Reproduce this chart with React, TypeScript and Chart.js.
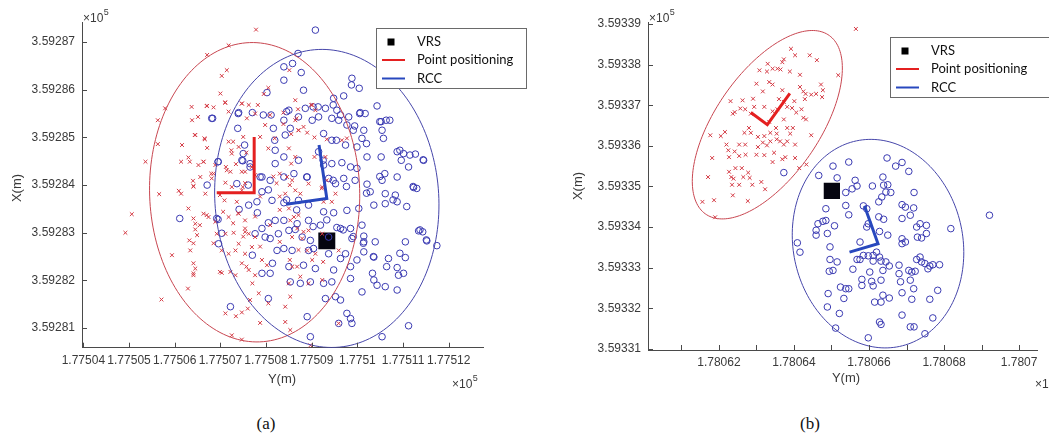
import React, { useEffect, useRef } from 'react';
import { Chart, registerables } from 'chart.js';

Chart.register(...registerables);

type Pt = [number, number];

// ---------------- Panel (a) data ----------------
const leftXTicks = [177504, 177505, 177506, 177507, 177508, 177509, 177510, 177511, 177512];
const leftXTickLabels = ['1.77504', '1.77505', '1.77506', '1.77507', '1.77508', '1.77509', '1.7751', '1.77511', '1.77512'];
const leftYTicks = [359281, 359282, 359283, 359284, 359285, 359286, 359287];
const leftYTickLabels = ['3.59281', '3.59282', '3.59283', '3.59284', '3.59285', '3.59286', '3.59287'];

const leftPointPositioning: Pt[] = [
  [177507.78, 359287.26], [177507.18, 359286.93], [177506.71, 359286.73], [177507.14, 359286.41], [177507.03, 359286.29],
  [177508.05, 359286.04], [177507.95, 359285.91], [177507.0, 359285.92], [177506.71, 359285.66], [177506.85, 359285.63],
  [177507.11, 359285.73], [177505.79, 359285.61], [177505.63, 359285.36], [177506.38, 359285.36], [177506.51, 359285.43],
  [177507.18, 359285.54], [177507.47, 359285.71], [177507.62, 359285.68], [177507.58, 359285.4], [177507.76, 359285.5],
  [177505.63, 359284.86], [177506.16, 359284.84], [177506.45, 359285.05], [177506.65, 359284.98], [177506.71, 359284.78],
  [177507.18, 359284.91], [177507.4, 359284.8], [177507.24, 359284.73], [177505.36, 359284.49], [177506.14, 359284.49],
  [177506.3, 359284.58], [177506.52, 359284.42], [177506.63, 359284.49], [177506.89, 359284.42], [177507.12, 359284.38],
  [177507.22, 359284.28], [177507.34, 359284.44], [177507.54, 359284.28], [177507.69, 359284.38], [177506.56, 359284.17],
  [177506.4, 359284.09], [177506.41, 359283.98], [177506.8, 359284.24], [177507.11, 359284.05], [177507.25, 359283.96],
  [177507.49, 359283.96], [177505.66, 359283.81], [177506.09, 359283.88], [177506.14, 359283.82], [177506.67, 359283.82],
  [177507.09, 359283.68], [177507.36, 359283.65], [177505.06, 359283.39], [177506.3, 359283.51], [177506.41, 359283.3],
  [177506.45, 359283.19], [177506.63, 359283.4], [177506.74, 359283.33], [177506.89, 359283.23], [177507.18, 359283.33],
  [177507.4, 359283.4], [177507.54, 359283.26], [177504.92, 359283.0], [177506.32, 359282.84], [177506.45, 359283.07],
  [177506.49, 359282.95], [177506.92, 359282.98], [177507.11, 359282.98], [177507.29, 359283.0], [177507.54, 359283.09],
  [177507.62, 359282.98], [177507.76, 359282.91], [177505.94, 359282.53], [177506.34, 359282.63], [177506.41, 359282.36],
  [177506.45, 359282.25], [177506.41, 359282.11], [177507.03, 359282.63], [177507.18, 359282.56], [177507.33, 359282.63],
  [177507.4, 359282.77], [177507.54, 359282.56], [177507.69, 359282.7], [177507.03, 359282.16], [177507.22, 359282.18],
  [177507.47, 359282.36], [177507.62, 359282.22], [177507.91, 359282.43], [177508.02, 359282.32], [177506.29, 359281.83],
  [177507.33, 359282.11], [177507.76, 359282.11], [177507.7, 359281.94], [177507.84, 359281.73], [177505.71, 359281.6],
  [177507.11, 359281.31], [177507.34, 359281.25], [177507.47, 359281.33], [177507.6, 359281.41], [177507.65, 359281.59],
  [177507.87, 359281.11], [177507.25, 359280.85], [177507.47, 359280.76], [177508.05, 359281.52],
  [177508.51, 359286.41], [177508.64, 359285.78], [177508.7, 359285.59], [177509.01, 359285.68], [177509.08, 359285.57],
  [177508.64, 359285.36], [177508.82, 359285.22], [177508.9, 359285.1], [177508.71, 359285.15], [177508.55, 359285.07],
  [177509.06, 359285.0], [177508.5, 359284.77], [177508.64, 359284.59], [177508.55, 359284.45], [177509.06, 359284.59],
  [177509.3, 359284.59], [177509.33, 359284.96], [177509.66, 359284.94], [177509.77, 359284.98], [177508.46, 359284.17],
  [177508.57, 359284.1], [177508.93, 359284.03], [177509.23, 359283.96], [177509.33, 359284.1], [177508.42, 359283.82],
  [177508.64, 359283.89], [177508.75, 359283.82], [177508.5, 359283.51], [177508.61, 359283.33], [177508.53, 359283.26],
  [177509.26, 359283.65], [177509.44, 359283.65], [177509.52, 359283.82], [177508.68, 359283.09], [177508.57, 359282.91],
  [177508.79, 359282.88], [177508.93, 359283.05], [177509.23, 359282.98], [177508.9, 359282.63], [177509.08, 359282.56],
  [177509.01, 359282.43], [177509.59, 359282.63], [177508.57, 359282.29], [177508.68, 359282.29], [177508.5, 359281.94],
  [177508.75, 359282.08], [177508.93, 359281.94], [177509.23, 359282.01], [177508.53, 359281.66], [177508.42, 359281.45],
  [177509.59, 359281.1], [177508.42, 359281.13], [177508.53, 359280.96], [177508.97, 359280.64],
  [177506.37, 359285.64], [177506.7, 359285.66], [177507.1, 359285.73], [177507.47, 359285.71], [177507.82, 359285.68],
  [177508.09, 359285.47], [177508.38, 359285.52], [177508.67, 359285.4], [177508.99, 359285.68], [177507.98, 359285.26],
  [177508.38, 359285.28], [177508.71, 359285.15], [177506.44, 359285.05], [177506.66, 359284.96], [177507.28, 359284.91],
  [177507.5, 359285.01], [177507.87, 359285.01], [177508.19, 359284.98], [177507.25, 359284.66], [177507.57, 359284.68],
  [177508.05, 359284.77], [177506.33, 359284.49], [177506.63, 359284.49], [177506.85, 359284.24], [177507.14, 359284.31],
  [177507.47, 359284.28], [177507.76, 359284.21], [177508.16, 359284.18], [177508.3, 359284.24], [177506.41, 359283.97],
  [177506.81, 359284.14], [177507.54, 359284.04], [177508.23, 359284.04], [177508.52, 359284.0], [177506.99, 359283.79],
  [177507.47, 359283.89], [177507.87, 359283.76], [177508.3, 359283.76], [177509.22, 359283.93], [177506.7, 359283.37],
  [177507.06, 359283.44], [177507.39, 359283.41], [177507.76, 359283.34], [177508.3, 359283.48], [177508.71, 359283.37],
  [177506.55, 359283.16], [177507.28, 359283.2], [177507.54, 359283.02], [177508.09, 359283.16], [177508.82, 359283.02],
  [177506.41, 359282.78], [177506.85, 359282.78], [177507.5, 359282.92], [177507.87, 359282.71], [177508.3, 359282.81],
  [177508.71, 359282.64], [177506.41, 359282.15], [177506.99, 359282.18], [177507.57, 359282.29], [177508.52, 359282.43],
  [177509.25, 359282.39],
];

const leftRCC: Pt[] = [
  [177506.83, 359285.4], [177507.4, 359285.52], [177507.7, 359285.52], [177507.38, 359285.19], [177507.53, 359284.84],
  [177507.49, 359284.51], [177507.65, 359284.45], [177506.95, 359284.49], [177506.71, 359284.0], [177507.36, 359284.03],
  [177507.91, 359284.17], [177508.09, 359284.1], [177508.2, 359284.45], [177508.2, 359284.73], [177508.19, 359284.94],
  [177508.16, 359285.19], [177508.11, 359285.47], [177508.02, 359285.94], [177506.11, 359283.3], [177506.95, 359283.28],
  [177506.96, 359282.77], [177507.41, 359283.49], [177507.62, 359283.58], [177507.8, 359283.65], [177507.91, 359283.86],
  [177508.13, 359283.68], [177507.81, 359283.42], [177507.76, 359282.98], [177507.91, 359283.09], [177508.05, 359283.21],
  [177508.2, 359283.26], [177507.98, 359282.91], [177508.09, 359282.88], [177507.7, 359282.53], [177507.91, 359282.15],
  [177508.09, 359282.15], [177508.14, 359282.36], [177507.22, 359281.45], [177508.05, 359281.62], [177508.27, 359282.98],
  [177508.24, 359282.63],
  [177509.08, 359287.25], [177508.7, 359286.76], [177508.58, 359286.55], [177508.39, 359286.48], [177508.77, 359286.36],
  [177508.82, 359285.99], [177508.39, 359286.2], [177509.88, 359286.24], [177509.87, 359286.1], [177510.04, 359286.03],
  [177509.48, 359285.82], [177509.7, 359285.87], [177508.5, 359285.57], [177508.86, 359285.61], [177509.14, 359285.64],
  [177509.3, 359285.61], [177509.55, 359285.57], [177509.63, 359285.47], [177509.81, 359285.43], [177510.06, 359285.52],
  [177510.17, 359285.5], [177510.43, 359285.66], [177508.39, 359285.36], [177508.71, 359285.43], [177509.01, 359285.36],
  [177509.15, 359285.43], [177509.44, 359285.4], [177509.59, 359285.36], [177509.77, 359285.26], [177509.94, 359285.24],
  [177510.14, 359285.15], [177510.52, 359285.33], [177510.63, 359285.36], [177510.54, 359285.15], [177510.57, 359284.98],
  [177508.42, 359285.05], [177508.53, 359285.19], [177509.26, 359285.08], [177509.44, 359284.94], [177509.74, 359284.84],
  [177509.99, 359284.8], [177510.1, 359284.98], [177510.21, 359284.59], [177510.52, 359284.59], [177510.87, 359284.7],
  [177511.01, 359284.66], [177510.96, 359284.52], [177511.12, 359284.38], [177511.27, 359284.65], [177511.45, 359284.52],
  [177508.39, 359284.59], [177508.71, 359284.52], [177509.15, 359284.7], [177509.26, 359284.42], [177509.44, 359284.45],
  [177509.66, 359284.47], [177509.85, 359284.38], [177509.99, 359284.35], [177508.39, 359284.17], [177508.61, 359284.24],
  [177508.9, 359284.17], [177509.37, 359284.14], [177509.52, 359284.03], [177509.7, 359284.14], [177509.95, 359284.1],
  [177510.21, 359284.02], [177510.54, 359284.1], [177510.6, 359284.24], [177510.87, 359284.17], [177511.23, 359283.95],
  [177511.3, 359283.93], [177508.39, 359283.63], [177508.71, 359283.68], [177508.93, 359283.58], [177509.26, 359283.44],
  [177509.48, 359283.42], [177509.77, 359283.47], [177510.03, 359283.51], [177510.28, 359283.86], [177510.36, 359283.58],
  [177510.61, 359283.82], [177510.83, 359283.79], [177510.87, 359283.65], [177510.61, 359283.61], [177508.39, 359283.26],
  [177508.68, 359283.19], [177508.93, 359283.26], [177509.19, 359283.16], [177509.55, 359283.11], [177509.85, 359283.09],
  [177510.1, 359283.16], [177508.5, 359283.05], [177508.64, 359283.07], [177508.79, 359282.91], [177508.97, 359282.84],
  [177509.37, 359282.91], [177509.63, 359283.09], [177509.88, 359282.88], [177510.14, 359282.93], [177510.39, 359282.81],
  [177510.14, 359282.81], [177511.34, 359283.04], [177511.43, 359283.02], [177511.52, 359282.83], [177511.74, 359282.73],
  [177511.05, 359282.81], [177508.39, 359282.67], [177508.57, 359282.63], [177508.93, 359282.63], [177509.04, 359282.67],
  [177509.37, 359282.56], [177509.63, 359282.46], [177509.74, 359282.56], [177510.14, 359282.6], [177510.36, 359282.49],
  [177510.68, 359282.46], [177511.05, 359282.48], [177508.5, 359282.29], [177508.82, 359282.32], [177509.08, 359282.25],
  [177509.48, 359282.22], [177509.85, 359282.29], [177509.99, 359282.43], [177510.33, 359282.15], [177510.87, 359282.27],
  [177510.9, 359282.11], [177511.01, 359282.15], [177508.53, 359281.97], [177508.75, 359281.94], [177508.97, 359281.97],
  [177509.26, 359281.94], [177509.44, 359281.97], [177509.85, 359282.04], [177510.1, 359281.76], [177510.36, 359282.01],
  [177510.43, 359281.9], [177510.61, 359281.87], [177510.87, 359281.8], [177509.52, 359281.66], [177509.63, 359281.59],
  [177509.3, 359281.62], [177508.9, 359281.24], [177509.77, 359281.31], [177509.85, 359281.2], [177509.88, 359281.1],
  [177509.59, 359281.1], [177511.12, 359281.05], [177510.54, 359280.82], [177508.97, 359280.82],
  [177506.81, 359285.4], [177507.39, 359285.5], [177507.94, 359285.47], [177508.45, 359285.54], [177509.03, 359285.64],
  [177509.47, 359285.68], [177510.05, 359285.5], [177510.49, 359285.33], [177510.71, 359285.36], [177510.93, 359284.73],
  [177511.15, 359284.63], [177511.44, 359284.53], [177511.22, 359283.97], [177510.78, 359283.69], [177511.08, 359283.55],
  [177511.37, 359283.06], [177511.51, 359282.85], [177510.93, 359282.57], [177510.64, 359282.29], [177510.35, 359282.5],
  [177510.13, 359282.78], [177509.91, 359282.92], [177509.69, 359283.06], [177509.33, 359283.27], [177509.03, 359283.13],
  [177508.67, 359283.48], [177508.45, 359283.69], [177508.05, 359283.9], [177507.87, 359284.17], [177507.61, 359284.0],
  [177507.47, 359284.52], [177507.65, 359284.38], [177507.5, 359284.66], [177506.95, 359284.49], [177506.92, 359283.3],
  [177507.03, 359282.99], [177510.2, 359284.87], [177509.91, 359285.15], [177509.54, 359284.94], [177509.25, 359284.52],
  [177508.89, 359284.17], [177509.47, 359284.1], [177509.76, 359283.97], [177510.2, 359283.83], [177510.49, 359284.18],
];

const leftVRS: Pt[] = [[177509.33, 359282.83]];
const leftPPAxes: Pt[] = [[177506.92, 359283.84], [177507.74, 359283.84], [177507.74, 359285.01]];
const leftRCCAxes: Pt[] = [[177508.44, 359283.6], [177509.33, 359283.72], [177509.16, 359284.84]];
// ellipse: centre x, centre y, semi-axis x, semi-axis y, rotation (deg)
const leftPPEllipse = [177507.75, 359283.85, 2.3, 3.14, 2];
const leftRCCEllipse = [177509.33, 359283.72, 2.45, 3.13, 5];

// ---------------- Panel (b) data ----------------
const rightXTicks = [178061, 178062, 178063, 178064, 178065, 178066, 178067, 178068, 178069, 178070];
const rightXTickLabels = ['', '1.78062', '', '1.78064', '', '1.78066', '', '1.78068', '', '1.7807'];
const rightYTicks = [359331, 359332, 359333, 359334, 359335, 359336, 359337, 359338, 359339];
const rightYTickLabels = ['3.59331', '3.59332', '3.59333', '3.59334', '3.59335', '3.59336', '3.59337', '3.59338', '3.59339'];

const rightPointPositioning: Pt[] = [
  [178063.92, 359338.39], [178064.03, 359338.23], [178064.42, 359338.23], [178064.61, 359338.11], [178063.73, 359338.13],
  [178063.69, 359338.06], [178063.3, 359338.02], [178063.43, 359337.9], [178063.56, 359337.9], [178063.64, 359337.88],
  [178063.08, 359337.86], [178063.28, 359337.83], [178063.89, 359337.83], [178064.16, 359337.75], [178065.18, 359337.74],
  [178063.0, 359337.53], [178063.34, 359337.57], [178063.43, 359337.51], [178064.16, 359337.45], [178063.17, 359337.34],
  [178063.69, 359337.37], [178064.25, 359337.34], [178064.31, 359337.28], [178064.46, 359337.26], [178064.59, 359337.28],
  [178064.77, 359337.37], [178064.72, 359337.51], [178064.75, 359337.2], [178062.31, 359337.1], [178062.63, 359337.12],
  [178062.91, 359337.16], [178063.6, 359337.15], [178063.73, 359337.08], [178064.01, 359337.1], [178064.29, 359337.15],
  [178062.42, 359336.83], [178062.37, 359336.79], [178062.57, 359336.92], [178062.7, 359336.9], [178062.85, 359336.79],
  [178062.94, 359336.96], [178063.21, 359336.96], [178063.43, 359336.85], [178063.56, 359336.9], [178063.82, 359336.96],
  [178063.95, 359336.93], [178064.2, 359336.9], [178064.06, 359336.82], [178064.25, 359336.69], [178064.32, 359336.65],
  [178063.34, 359336.59], [178063.52, 359336.44], [178063.73, 359336.65], [178063.82, 359336.44], [178063.97, 359336.44],
  [178062.8, 359336.44], [178062.68, 359336.32], [178062.85, 359336.32], [178062.16, 359336.34], [178062.05, 359336.24],
  [178061.77, 359336.26], [178063.04, 359336.22], [178063.21, 359336.24], [178063.37, 359336.32], [178063.54, 359336.3],
  [178063.9, 359336.3], [178064.46, 359336.26], [178063.17, 359336.08], [178063.37, 359336.11], [178063.54, 359336.16],
  [178063.63, 359336.11], [178063.82, 359336.11], [178062.2, 359336.03], [178062.54, 359336.03], [178062.7, 359336.03],
  [178063.04, 359335.97], [178063.28, 359336.01], [178063.73, 359336.03], [178064.03, 359336.03], [178062.25, 359335.89],
  [178062.42, 359335.86], [178062.27, 359335.72], [178062.54, 359335.75], [178062.71, 359335.78], [178063.0, 359335.78],
  [178063.21, 359335.77], [178063.47, 359335.83], [178063.69, 359335.67], [178063.77, 359335.72], [178061.82, 359335.7],
  [178063.43, 359335.6], [178062.44, 359335.45], [178062.61, 359335.45], [178062.78, 359335.34], [178062.27, 359335.36],
  [178062.33, 359335.23], [178062.39, 359335.19], [178062.65, 359335.23], [178062.82, 359335.21], [178064.14, 359335.45],
  [178064.33, 359335.54], [178064.03, 359335.7], [178061.71, 359335.23], [178062.35, 359335.04], [178062.54, 359335.04],
  [178062.89, 359335.04], [178063.13, 359335.11], [178063.23, 359334.93], [178061.87, 359334.66], [178061.56, 359334.62],
  [178062.37, 359334.78], [178062.77, 359334.64], [178061.9, 359334.24], [178065.65, 359338.88],
];

const rightRCC: Pt[] = [
  [178063.73, 359335.34], [178064.66, 359335.27], [178065.04, 359335.5], [178065.15, 359335.21], [178064.85, 359334.45],
  [178064.85, 359334.16], [178064.77, 359334.14], [178064.64, 359334.08], [178065.08, 359334.03], [178064.59, 359333.92],
  [178064.59, 359333.8], [178064.89, 359333.84], [178064.09, 359333.61], [178064.16, 359333.38], [178064.96, 359333.51],
  [178064.96, 359333.2], [178065.15, 359333.14], [178064.94, 359332.91], [178065.04, 359332.93], [178065.24, 359332.52],
  [178064.91, 359332.36], [178064.89, 359332.03], [178065.21, 359331.87], [178065.11, 359331.51],
  [178065.46, 359335.6], [178066.48, 359335.7], [178066.71, 359335.5], [178066.88, 359335.59], [178067.06, 359335.37],
  [178065.63, 359335.15], [178065.68, 359335.01], [178065.55, 359334.94], [178065.38, 359334.85], [178066.09, 359335.01],
  [178066.37, 359335.23], [178066.39, 359335.03], [178066.5, 359335.04], [178066.58, 359334.85], [178066.45, 359334.86],
  [178066.34, 359334.74], [178066.26, 359334.62], [178067.2, 359334.85], [178065.85, 359334.52], [178065.94, 359334.45],
  [178066.88, 359334.55], [178066.97, 359334.49], [178067.1, 359334.29], [178067.19, 359334.47], [178065.38, 359334.53],
  [178065.46, 359334.3], [178066.26, 359334.25], [178066.39, 359334.19], [178065.98, 359334.08], [178065.94, 359334.0],
  [178066.28, 359333.89], [178066.5, 359333.8], [178066.88, 359334.21], [178067.27, 359334.0], [178067.36, 359334.08],
  [178067.53, 359334.04], [178067.53, 359333.84], [178067.4, 359333.73], [178067.29, 359333.75], [178068.18, 359333.96],
  [178066.88, 359333.71], [178066.88, 359333.59], [178066.97, 359333.63], [178069.21, 359334.29], [178065.76, 359333.63],
  [178065.68, 359333.2], [178065.76, 359333.2], [178065.85, 359333.3], [178065.98, 359333.29], [178066.11, 359333.3],
  [178066.2, 359333.38], [178066.28, 359333.26], [178066.32, 359333.16], [178066.45, 359333.14], [178066.54, 359333.04],
  [178066.11, 359333.16], [178066.37, 359332.93], [178065.57, 359332.96], [178066.02, 359332.89], [178066.8, 359333.06],
  [178066.8, 359332.85], [178067.06, 359332.93], [178067.14, 359332.89], [178067.23, 359332.91], [178067.27, 359333.2],
  [178067.36, 359333.26], [178067.4, 359333.14], [178067.49, 359333.1], [178067.62, 359333.04], [178067.7, 359333.07],
  [178067.88, 359333.07], [178067.57, 359332.97], [178065.81, 359332.71], [178066.07, 359332.66], [178065.81, 359332.56],
  [178066.11, 359332.55], [178066.32, 359332.69], [178066.84, 359332.65], [178067.1, 359332.69], [178065.38, 359332.48],
  [178065.46, 359332.48], [178065.33, 359332.24], [178066.37, 359332.32], [178066.54, 359332.25], [178066.15, 359332.15],
  [178066.32, 359332.15], [178066.88, 359332.38], [178067.14, 359332.22], [178067.19, 359332.48], [178067.83, 359332.44],
  [178067.62, 359332.22], [178066.88, 359331.83], [178066.28, 359331.66], [178066.32, 359331.6], [178067.1, 359331.54],
  [178067.2, 359331.54], [178067.7, 359331.76], [178067.49, 359331.37], [178065.98, 359331.27],
];

const rightVRS: Pt[] = [[178065.01, 359334.89]];
const rightPPAxes: Pt[] = [[178062.85, 359336.82], [178063.29, 359336.52], [178063.89, 359337.29]];
const rightRCCAxes: Pt[] = [[178065.48, 359333.38], [178066.24, 359333.59], [178065.88, 359334.52]];
const rightPPEllipse = [178063.29, 359336.52, 2.75, 1.35, 52];
const rightRCCEllipse = [178066.24, 359333.59, 2.25, 2.6, 18];

const legendLabels = ['VRS', 'Point positioning', 'RCC'];

// ---------------- styles ----------------
const RED_PT = 'rgb(212,58,68)';
const BLUE_PT = 'rgb(58,58,178)';
const RED_ELL = 'rgb(200,70,80)';
const BLUE_ELL = 'rgb(70,70,170)';
const RED_AX = 'rgb(228,32,32)';
const BLUE_AX = 'rgb(40,72,190)';
const AXIS_COL = '#4a4a4a';
const TXT_COL = '#3a3a3a';
const TICK_FONT = "12px 'Liberation Sans', Arial, sans-serif";
const TITLE_FONT = "13px 'Liberation Sans', Arial, sans-serif";
const LEGEND_FONT = "13px Lato, 'Open Sans', sans-serif";

interface PanelCfg {
  left: number;
  w: number;
  h: number;
  area: { left: number; top: number; right: number; bottom: number };
  xMin: number; xMax: number; yMin: number; yMax: number;
  xTicks: number[]; xLabels: string[]; yTicks: number[]; yLabels: string[];
  pp: Pt[]; rcc: Pt[]; vrs: Pt[]; ppAxes: Pt[]; rccAxes: Pt[];
  ppEll: number[]; rccEll: number[];
  vrsRadius: number;
  xTitle: [number, number]; yTitle: [number, number];
  yExp: [number, number]; xExp: [number, number];
  legend: { x: number; y: number; w: number; h: number };
}

const panels: PanelCfg[] = [
  {
    left: 0, w: 530, h: 400,
    area: { left: 82, top: 22, right: 483, bottom: 347.7 },
    xMin: 177503.97, xMax: 177512.75, yMin: 359280.59, yMax: 359287.42,
    xTicks: leftXTicks, xLabels: leftXTickLabels, yTicks: leftYTicks, yLabels: leftYTickLabels,
    pp: leftPointPositioning, rcc: leftRCC, vrs: leftVRS, ppAxes: leftPPAxes, rccAxes: leftRCCAxes,
    ppEll: leftPPEllipse, rccEll: leftRCCEllipse, vrsRadius: 12,
    xTitle: [282, 379], yTitle: [17, 188], yExp: [83, 19], xExp: [452, 385],
    legend: { x: 376, y: 28, w: 151, h: 61 },
  },
  {
    left: 540, w: 509, h: 400,
    area: { left: 108, top: 22, right: 509, bottom: 350 },
    xMin: 178060.11, xMax: 178070.49, yMin: 359330.97, yMax: 359339.05,
    xTicks: rightXTicks, xLabels: rightXTickLabels, yTicks: rightYTicks, yLabels: rightYTickLabels,
    pp: rightPointPositioning, rcc: rightRCC, vrs: rightVRS, ppAxes: rightPPAxes, rccAxes: rightRCCAxes,
    ppEll: rightPPEllipse, rccEll: rightRCCEllipse, vrsRadius: 11.5,
    xTitle: [306, 378], yTitle: [38, 186], yExp: [109, 19], xExp: [495, 385],
    legend: { x: 350, y: 37, w: 200, h: 61 },
  },
];

const toXY = (arr: Pt[]) => arr.map(([x, y]) => ({ x, y }));

function drawExp(ctx: CanvasRenderingContext2D, x: number, y: number) {
  ctx.font = TICK_FONT;
  ctx.textAlign = 'left';
  ctx.textBaseline = 'middle';
  ctx.fillText('\u00d710', x, y);
  const w = ctx.measureText('\u00d710').width;
  ctx.font = "9px 'Liberation Sans', Arial, sans-serif";
  ctx.fillText('5', x + w + 0.5, y - 6);
}

function makePlugin(cfg: PanelCfg) {
  return {
    id: 'decor',
    afterDatasetsDraw(chart: any) {
      const ctx: CanvasRenderingContext2D = chart.ctx;
      const xs = chart.scales.x;
      const ys = chart.scales.y;
      const ca = chart.chartArea;
      ctx.save();
      ctx.beginPath();
      ctx.rect(ca.left, ca.top, ca.right - ca.left, ca.bottom - ca.top);
      ctx.clip();
      const drawEll = (e: number[], col: string) => {
        const [cx, cy, rx, ry, rotDeg] = e;
        const r = (rotDeg * Math.PI) / 180;
        ctx.beginPath();
        for (let i = 0; i <= 180; i++) {
          const t = (i / 180) * Math.PI * 2;
          const ex = rx * Math.cos(t);
          const ey = ry * Math.sin(t);
          const vx = cx + ex * Math.cos(r) - ey * Math.sin(r);
          const vy = cy + ex * Math.sin(r) + ey * Math.cos(r);
          const px = xs.getPixelForValue(vx);
          const py = ys.getPixelForValue(vy);
          if (i === 0) ctx.moveTo(px, py);
          else ctx.lineTo(px, py);
        }
        ctx.strokeStyle = col;
        ctx.lineWidth = 1;
        ctx.stroke();
      };
      drawEll(cfg.ppEll, RED_ELL);
      drawEll(cfg.rccEll, BLUE_ELL);
      ctx.restore();
    },
    afterDraw(chart: any) {
      const ctx: CanvasRenderingContext2D = chart.ctx;
      const xs = chart.scales.x;
      const ys = chart.scales.y;
      const ca = chart.chartArea;
      ctx.save();
      // inward ticks
      ctx.strokeStyle = AXIS_COL;
      ctx.lineWidth = 1;
      ctx.beginPath();
      cfg.xTicks.forEach((v) => {
        const px = Math.round(xs.getPixelForValue(v)) + 0.5;
        ctx.moveTo(px, ca.bottom);
        ctx.lineTo(px, ca.bottom - 5);
      });
      cfg.yTicks.forEach((v) => {
        const py = Math.round(ys.getPixelForValue(v)) + 0.5;
        ctx.moveTo(ca.left, py);
        ctx.lineTo(ca.left + 5, py);
      });
      ctx.stroke();
      // tick labels
      ctx.fillStyle = TXT_COL;
      ctx.font = TICK_FONT;
      ctx.textAlign = 'center';
      ctx.textBaseline = 'middle';
      cfg.xTicks.forEach((v, i) => {
        const lab = cfg.xLabels[i];
        if (lab) ctx.fillText(lab, xs.getPixelForValue(v), ca.bottom + 13);
      });
      ctx.textAlign = 'right';
      cfg.yTicks.forEach((v, i) => {
        ctx.fillText(cfg.yLabels[i], ca.left - 7, ys.getPixelForValue(v));
      });
      // titles
      ctx.font = TITLE_FONT;
      ctx.textAlign = 'center';
      ctx.fillText('Y(m)', cfg.xTitle[0], cfg.xTitle[1]);
      ctx.save();
      ctx.translate(cfg.yTitle[0], cfg.yTitle[1]);
      ctx.rotate(-Math.PI / 2);
      ctx.fillText('X(m)', 0, 0);
      ctx.restore();
      drawExp(ctx, cfg.yExp[0], cfg.yExp[1]);
      drawExp(ctx, cfg.xExp[0], cfg.xExp[1]);
      // legend
      const L = cfg.legend;
      ctx.fillStyle = '#ffffff';
      ctx.fillRect(L.x, L.y, L.w, L.h);
      ctx.strokeStyle = '#6a6a6a';
      ctx.lineWidth = 1;
      ctx.strokeRect(L.x + 0.5, L.y + 0.5, L.w - 1, L.h - 1);
      const rows = [L.y + 14, L.y + 32, L.y + 50.5];
      ctx.fillStyle = '#000';
      ctx.fillRect(L.x + 11.5, rows[0] - 3.5, 7, 7);
      ctx.lineWidth = 2;
      ctx.strokeStyle = RED_AX;
      ctx.beginPath();
      ctx.moveTo(L.x + 6, rows[1]);
      ctx.lineTo(L.x + 29, rows[1]);
      ctx.stroke();
      ctx.strokeStyle = BLUE_AX;
      ctx.beginPath();
      ctx.moveTo(L.x + 6, rows[2]);
      ctx.lineTo(L.x + 29, rows[2]);
      ctx.stroke();
      ctx.fillStyle = '#111';
      ctx.font = LEGEND_FONT;
      ctx.textAlign = 'left';
      ctx.textBaseline = 'middle';
      legendLabels.forEach((t, i) => ctx.fillText(t, L.x + 41, rows[i]));
      ctx.restore();
    },
  };
}

function Panel({ cfg }: { cfg: PanelCfg }) {
  const ref = useRef<HTMLCanvasElement>(null);
  useEffect(() => {
    if (!ref.current) return;
    const chart = new Chart(ref.current, {
      type: 'scatter',
      data: {
        datasets: [
          { label: 'ppAxes', data: toXY(cfg.ppAxes), showLine: true, borderColor: RED_AX, borderWidth: 3, pointRadius: 0, fill: false } as any,
          { label: 'rccAxes', data: toXY(cfg.rccAxes), showLine: true, borderColor: BLUE_AX, borderWidth: 3, pointRadius: 0, fill: false } as any,
          { label: 'Point positioning', data: toXY(cfg.pp), pointStyle: 'crossRot', pointRadius: 2.7, borderColor: RED_PT, borderWidth: 1, backgroundColor: RED_PT },
          { label: 'RCC', data: toXY(cfg.rcc), pointStyle: 'circle', pointRadius: 3.3, borderColor: BLUE_PT, borderWidth: 1, backgroundColor: 'rgba(0,0,0,0)' },
          { label: 'VRS', data: toXY(cfg.vrs), pointStyle: 'rect', pointRadius: cfg.vrsRadius, borderColor: '#000', borderWidth: 0, backgroundColor: '#050510' },
        ],
      },
      options: {
        animation: false,
        responsive: false,
        devicePixelRatio: 1,
        layout: { padding: { top: cfg.area.top, right: cfg.w - cfg.area.right, left: 0, bottom: 0 } },
        plugins: { legend: { display: false }, tooltip: { enabled: false } },
        scales: {
          x: {
            type: 'linear', position: 'bottom', min: cfg.xMin, max: cfg.xMax,
            ticks: { display: false },
            grid: { drawOnChartArea: false, drawTicks: false },
            border: { display: true, color: AXIS_COL, width: 1 },
            afterFit: (s: any) => { s.height = cfg.h - cfg.area.bottom; },
          },
          y: {
            type: 'linear', position: 'left', min: cfg.yMin, max: cfg.yMax,
            ticks: { display: false },
            grid: { drawOnChartArea: false, drawTicks: false },
            border: { display: true, color: AXIS_COL, width: 1 },
            afterFit: (s: any) => { s.width = cfg.area.left; },
          },
        },
      } as any,
      plugins: [makePlugin(cfg)],
    });
    return () => chart.destroy();
  }, [cfg]);
  return (
    <canvas
      ref={ref}
      width={cfg.w}
      height={cfg.h}
      style={{ position: 'absolute', left: cfg.left, top: 0, width: cfg.w, height: cfg.h }}
    />
  );
}

const captionStyle: React.CSSProperties = {
  position: 'absolute',
  top: 414,
  width: 40,
  textAlign: 'center',
  fontFamily: "'Liberation Serif', 'Times New Roman', serif",
  fontSize: 17,
  color: '#111',
  lineHeight: '20px',
};

export default function App() {
  return (
    <div style={{ position: 'fixed', left: 0, top: 0, width: 1049, height: 442, background: '#fff', overflow: 'hidden' }}>
      {panels.map((p, i) => (
        <Panel key={i} cfg={p} />
      ))}
      <div style={{ ...captionStyle, left: 246 }}>(a)</div>
      <div style={{ ...captionStyle, left: 790 }}>(b)</div>
    </div>
  );
}
